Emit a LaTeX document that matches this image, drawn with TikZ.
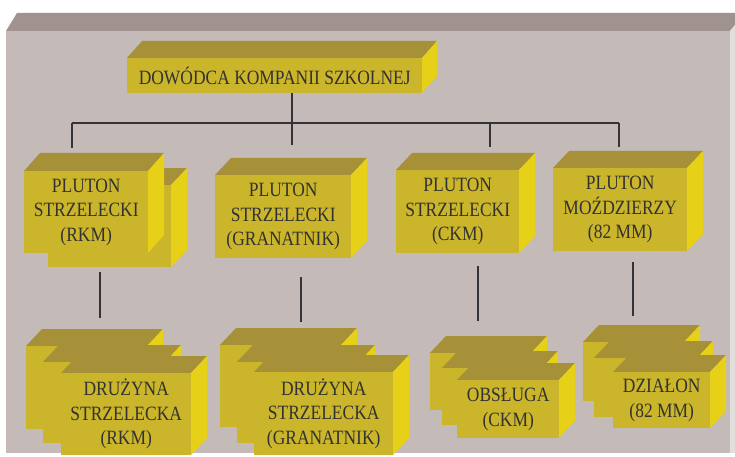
\documentclass[tikz,border=0pt]{standalone}
\usepackage{fontspec}
\setmainfont[FakeStretch=0.86]{Liberation Serif}

\definecolor{bgfront}{RGB}{196,186,184}
\definecolor{bgtop}{RGB}{160,146,142}
\definecolor{bgside}{RGB}{226,222,220}
\definecolor{frontc}{RGB}{203,181,42}
\definecolor{topc}{RGB}{166,144,56}
\definecolor{sidec}{RGB}{230,208,24}
\definecolor{wirec}{RGB}{52,52,56}
\definecolor{textc}{RGB}{50,50,50}

\tikzset{
  wire/.style={line width=2.6pt, draw=wirec},
  facefront/.style={fill=frontc, inner sep=0pt, align=center, text=textc,
    font=\fontsize{20.3}{24.5}\selectfont},
}

% depth of the extruded blocks
\def\bdx{16}
\def\bdy{17}

% a 3-D block: name, front-face corners (x1,y1) (x2,y2), label
\newcommand\blockbox[6]{%
  \pgfmathsetmacro\bw{#4-#2}%
  \pgfmathsetmacro\bh{#5-#3}%
  \fill[topc] (#2,#3) -- (#2+\bdx,#3-\bdy) -- (#4+\bdx,#3-\bdy) -- (#4,#3) -- cycle;
  \fill[sidec] (#4,#3) -- (#4+\bdx,#3-\bdy) -- (#4+\bdx,#5-\bdy) -- (#4,#5) -- cycle;
  \node[facefront, minimum width=\bw pt, minimum height=\bh pt, anchor=north west]
    (#1) at (#2,#3) {#6};
}

\begin{document}
\begin{tikzpicture}[x=1pt, y=-1pt]
  \useasboundingbox (0,0) rectangle (735,457);

  % backdrop slab
  \fill[bgtop] (6,31) -- (17,13) -- (735,13) -- (735,25) -- (730,31) -- cycle;
  \fill[bgside] (730,31) -- (735,25) -- (735,453) -- (730,453) -- cycle;
  \fill[bgfront] (6,31) rectangle (730,453);

  % commander
  \def\bdx{15}
  \blockbox{top}{127}{58}{422}{93}{DOWÓDCA KOMPANII SZKOLNEJ}

  % platoons
  \def\bdx{16}
  \def\bdy{17}
  \blockbox{p1b}{48}{185}{171}{267}{}
  \def\bdy{18}
  \blockbox{p1}{24}{171}{148}{253}{PLUTON\\STRZELECKI\\(RKM)}
  \def\bdy{17}
  \blockbox{p2}{215}{175}{351}{258}{PLUTON\\STRZELECKI\\(GRANATNIK)}
  \blockbox{p3}{396}{170}{519}{253}{PLUTON\\STRZELECKI\\(CKM)}
  \blockbox{p4}{553}{168}{687}{251}{PLUTON\\MOŹDZIERZY\\(82 MM)}

  % squads
  \blockbox{s1c}{26}{346}{147}{429}{}
  \blockbox{s1b}{43}{362}{165}{443}{}
  \blockbox{s1}{61}{373}{191}{455}{DRUŻYNA\\STRZELECKA\\(RKM)}

  \blockbox{s2c}{220}{345}{341}{427}{}
  \blockbox{s2b}{237}{362}{359}{443}{}
  \blockbox{s2}{254}{372}{393}{455}{DRUŻYNA\\STRZELECKA\\(GRANATNIK)}

  \blockbox{s3c}{430}{353}{531}{410}{}
  \blockbox{s3b}{442}{368}{542}{425}{}
  \blockbox{s3}{457}{380}{559}{438}{OBSŁUGA\\(CKM)}

  \blockbox{s4c}{583}{342}{684}{401}{}
  \blockbox{s4b}{594}{358}{697}{417}{}
  \blockbox{s4}{613}{372}{710}{428}{DZIAŁON\\(82 MM)}

  % wiring points
  \coordinate (hm) at (292,145);
  \coordinate (hl) at (72,123);
  \coordinate (hr) at (619,123);
  \coordinate (d1) at (72,148);
  \coordinate (h3) at (490,123);
  \coordinate (d3) at (490,147);
  \coordinate (d4) at (619,147);
  \coordinate (u1) at (100,272);  \coordinate (l1) at (100,318);
  \coordinate (u2) at (301,277);  \coordinate (l2) at (301,322);
  \coordinate (u3) at (478,266);  \coordinate (l3) at (478,321);
  \coordinate (u4) at (633,262);  \coordinate (l4) at (633,316);

  % connectors
  \draw[wire] (top.south -| hm) -- (hm);
  \draw[wire] (hl) -- (hr);
  \draw[wire] (hl) -- (d1);
  \draw[wire] (h3) -- (d3);
  \draw[wire] (hr) -- (d4);
  \draw[wire] (u1) -- (l1);
  \draw[wire] (u2) -- (l2);
  \draw[wire] (u3) -- (l3);
  \draw[wire] (u4) -- (l4);
\end{tikzpicture}
\end{document}
